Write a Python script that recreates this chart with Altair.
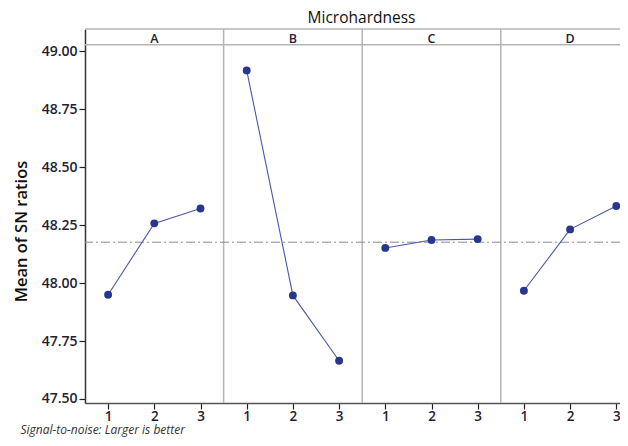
import altair as alt
import pandas as pd

# ---- data ----
factors = ["A", "B", "C", "D"]
levels = [1, 2, 3]
means_A = [47.950, 48.258, 48.322]
means_B = [48.918, 47.947, 47.665]
means_C = [48.152, 48.186, 48.190]
means_D = [47.967, 48.232, 48.333]
y_ticks = [47.50, 47.75, 48.00, 48.25, 48.50, 48.75, 49.00]
title_text = "Microhardness"
y_title = "Mean of SN ratios"
footnote = "Signal-to-noise: Larger is better"

series = [means_A, means_B, means_C, means_D]
rows = []
for i, (f, vals) in enumerate(zip(factors, series)):
    for lv, v in zip(levels, vals):
        rows.append({"factor": f, "level": lv, "pos": i * 3 + lv, "value": v})
df = pd.DataFrame(rows)
grand_mean = float(df["value"].mean())

div_df = pd.DataFrame({"pos": [(i + 1) * 3 + 0.5 for i in range(len(factors) - 1)]})
hdr_df = pd.DataFrame({"factor": factors, "pos": [i * 3 + 2 for i in range(len(factors))]})
mean_df = pd.DataFrame({"value": [grand_mean]})

W, H = 535, 374
PX = 46.2  # pixels per level step
x_scale = alt.Scale(domain=[0.5, 0.5 + W / PX], nice=False, zero=False)
y_scale = alt.Scale(domain=[47.4827, 49.0968], nice=False, zero=False)

FONT = "Open Sans"
TXT = "#1f2233"

x_enc = alt.X(
    "pos:Q", scale=x_scale,
    axis=alt.Axis(
        values=list(range(1, 3 * len(factors) + 1)),
        labelExpr="((datum.value - 1) % 3) + 1",
        grid=False, domainColor="#555555", domainWidth=1.5,
        tickColor="#222222", tickSize=6, tickWidth=1.2,
        labelFont=FONT, labelFontSize=13.5, labelFontWeight=600, labelColor=TXT,
        labelPadding=0,
        title=footnote, titleX=-65, titleY=33, titleAlign="left",
        titleBaseline="bottom", titleFont=FONT, titleFontSize=12,
        titleFontStyle="italic", titleFontWeight="normal", titleColor="#333333",
    ),
)

y_enc = alt.Y(
    "value:Q", scale=y_scale,
    axis=alt.Axis(
        values=y_ticks, format=".2f", grid=False,
        domainColor="#333333", domainWidth=1.5,
        tickColor="#222222", tickSize=6, tickWidth=1.2,
        labelFont=FONT, labelFontSize=14, labelFontWeight=600, labelColor=TXT,
        labelPadding=2,
        title=y_title, titleX=-64, titleY=202, titleAngle=-90,
        titleAlign="center", titleBaseline="middle",
        titleFont=FONT, titleFontSize=16.5, titleFontWeight=600, titleColor="#111111",
    ),
)

dividers = alt.Chart(div_df).mark_rule(color="#b5b5b5", strokeWidth=1.5).encode(
    x=alt.X("pos:Q", scale=x_scale)
)
hdr_top = alt.Chart(mean_df).mark_rule(color="#b5b5b5", strokeWidth=1.5).encode(
    x=alt.value(0), x2=alt.value(W), y=alt.value(0)
)
hdr_bottom = alt.Chart(mean_df).mark_rule(color="#b5b5b5", strokeWidth=1.5).encode(
    x=alt.value(0), x2=alt.value(W), y=alt.value(15.7)
)
hdr_text = alt.Chart(hdr_df).mark_text(
    font=FONT, fontSize=12.5, fontWeight=600, color=TXT, baseline="middle"
).encode(x=alt.X("pos:Q", scale=x_scale), y=alt.value(9.5), text="factor:N")

mean_line = alt.Chart(mean_df).mark_rule(
    color="#8a8a8a", strokeWidth=1, strokeDash=[9, 3, 2, 3]
).encode(y=alt.Y("value:Q", scale=y_scale))

lines = alt.Chart(df).mark_line(color="#4b58a6", strokeWidth=1.1).encode(
    x=x_enc, y=y_enc, detail="factor:N"
)
points = alt.Chart(df).mark_circle(color="#27378c", opacity=1, size=62).encode(
    x=alt.X("pos:Q", scale=x_scale), y=alt.Y("value:Q", scale=y_scale)
)

chart = alt.layer(
    dividers, hdr_top, hdr_bottom, mean_line, lines, points, hdr_text
).properties(
    width=W, height=H,
    autosize=alt.AutoSizeParams(type="none"),
    padding={"left": 77, "top": 21, "right": 0, "bottom": 34},
    title=alt.TitleParams(
        title_text, anchor="middle", dx=9, offset=2,
        font=FONT, fontSize=15.5, fontWeight="normal", color="#111111",
    ),
    background="white",
).configure_view(stroke=None)

chart.save("out.html", embed_options={"renderer": "svg", "actions": False})
